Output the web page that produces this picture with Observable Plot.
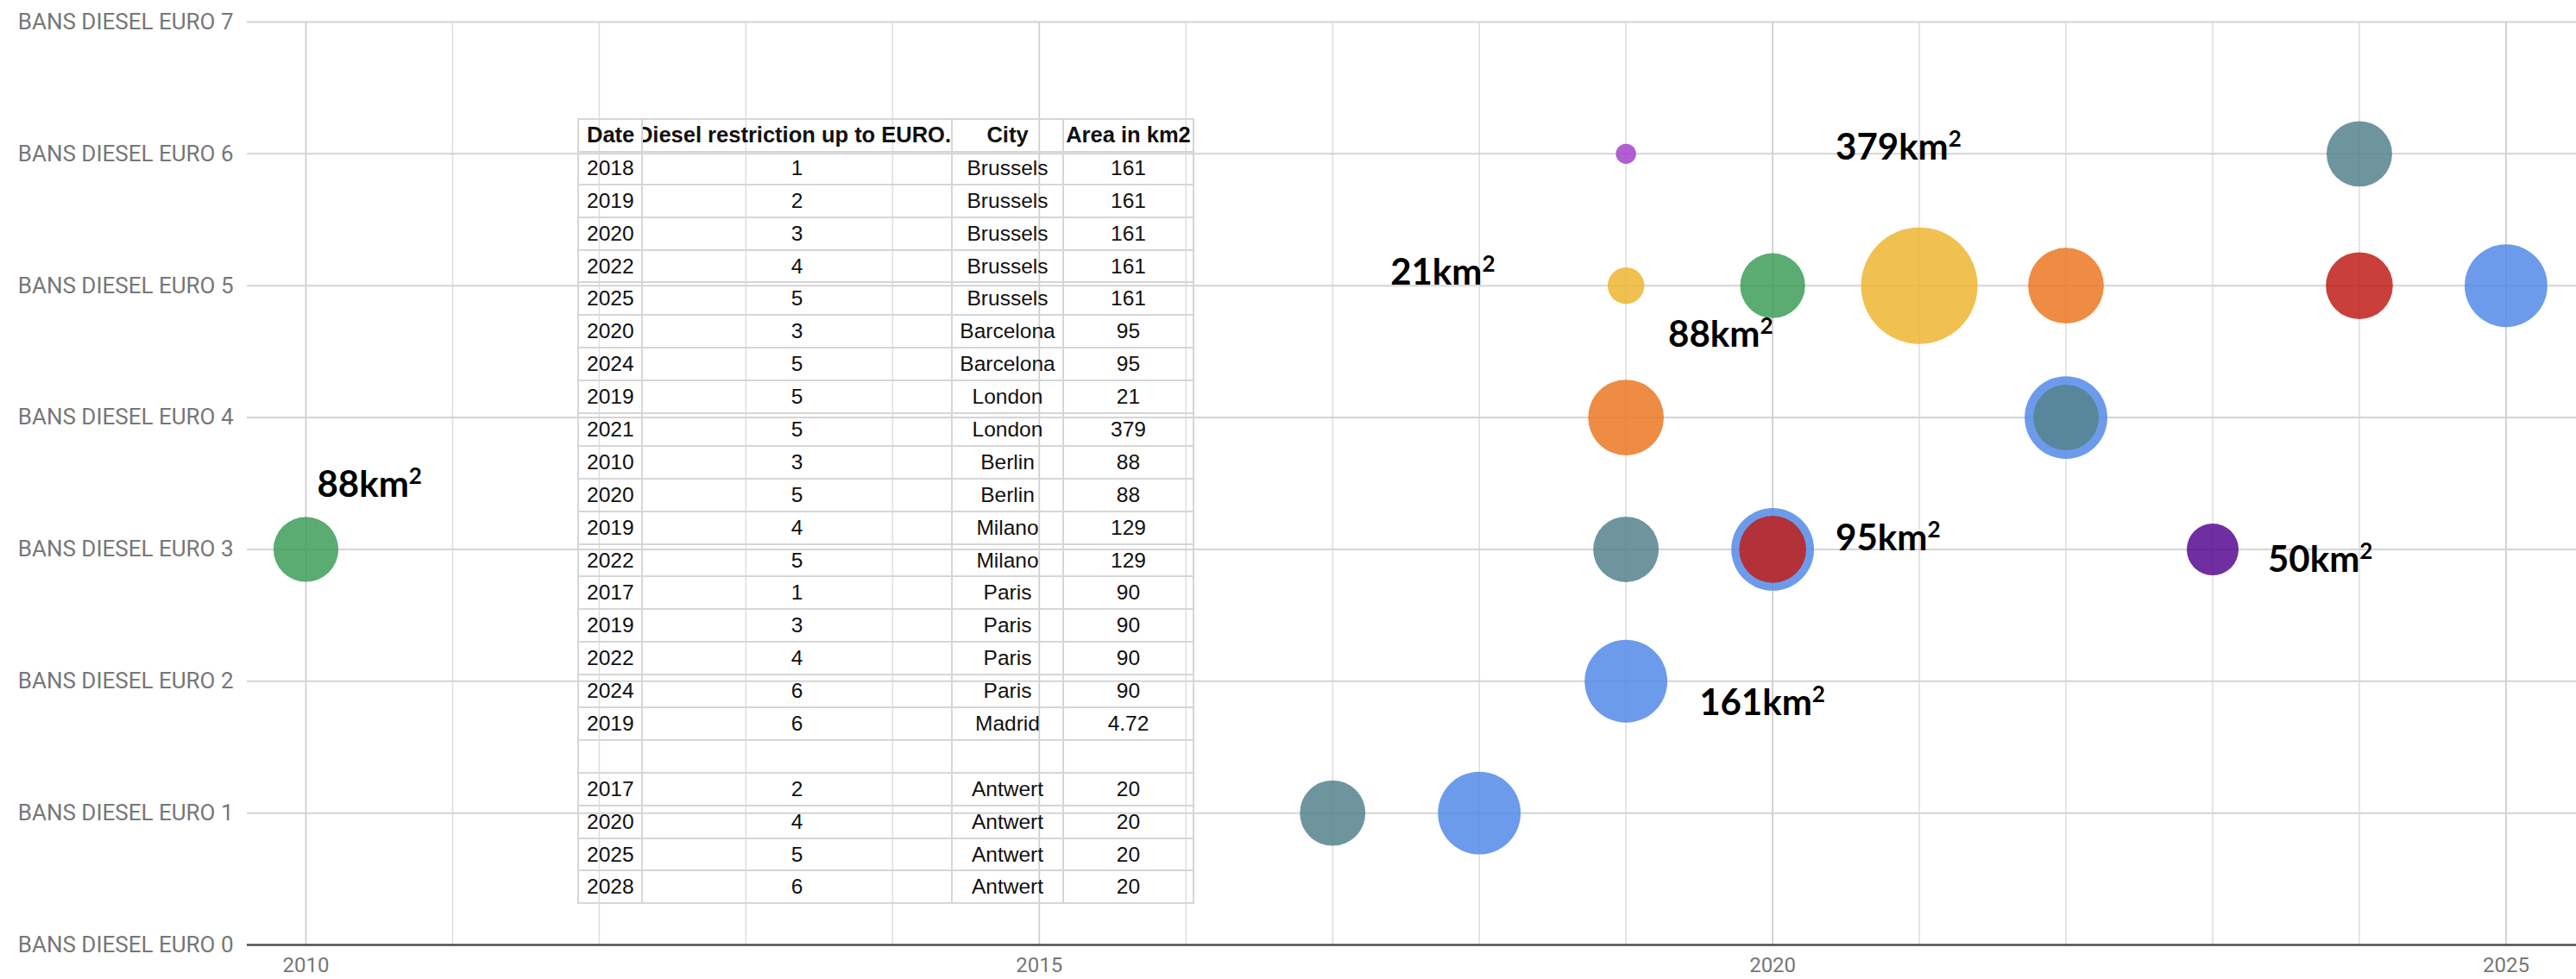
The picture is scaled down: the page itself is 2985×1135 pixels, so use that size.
<!DOCTYPE html>
<html>
<head>
<meta charset="utf-8">
<script src="https://cdn.jsdelivr.net/npm/d3@7"></script>
<script src="https://cdn.jsdelivr.net/npm/@observablehq/plot@0.6"></script>
<style>
  html, body { margin: 0; padding: 0; background: #fff; overflow: hidden; }
  #wrap { position: relative; width: 2985px; height: 1135px; }
  #chart { position: absolute; left: 0; top: 0; }
  #tbl { position: absolute; left: 669px; top: 137px; border-collapse: collapse; table-layout: fixed;
         font-family: "Liberation Sans", Arial, sans-serif; font-size: 24.5px; color: #111; background: transparent; }
  #tbl td { border: 2px solid #d6d6d6; padding: 0; height: 35.9px; white-space: nowrap; overflow: hidden; text-align: center; }
  #tbl td.date { text-align: left; padding-left: 9px; }
  #tbl tr.head td { font-weight: 700; font-size: 25.5px; }
  #tbl .clip { display: flex; justify-content: center; overflow: hidden; white-space: nowrap; }
</style>
</head>
<body>
<div id="wrap">
  <div id="chart"></div>
  <table id="tbl"></table>
</div>
<script>
// ---------- data ----------
const tableHeader = ["Date", "Diesel restriction up to EURO..", "City", "Area in km2"];
const tableDate = [2018, 2019, 2020, 2022, 2025, 2020, 2024, 2019, 2021, 2010, 2020, 2019, 2022, 2017, 2019, 2022, 2024, 2019, null, 2017, 2020, 2025, 2028];
const tableEuro = [1, 2, 3, 4, 5, 3, 5, 5, 5, 3, 5, 4, 5, 1, 3, 4, 6, 6, null, 2, 4, 5, 6];
const tableCity = ["Brussels", "Brussels", "Brussels", "Brussels", "Brussels", "Barcelona", "Barcelona", "London", "London", "Berlin", "Berlin", "Milano", "Milano", "Paris", "Paris", "Paris", "Paris", "Madrid", "", "Antwert", "Antwert", "Antwert", "Antwert"];
const tableArea = [161, 161, 161, 161, 161, 95, 95, 21, 379, 88, 88, 129, 129, 90, 90, 90, 90, 4.72, null, 20, 20, 20, 20];

// cities drawn as bubbles (Antwerp rows are only in the table)
const plottedCities = ["Brussels", "Barcelona", "London", "Berlin", "Milano", "Paris", "Madrid"];

// extra bubble shown on the chart (50 km², not in the table)
const extraCity = ["Other"];
const extraYear = [2023];
const extraEuro = [3];
const extraArea = [50];

// y tick labels and x ticks
const euroLevels = [0, 1, 2, 3, 4, 5, 6, 7];
const euroLabelPrefix = "BANS DIESEL EURO ";
const yearTicks = [2010, 2015, 2020, 2025];
const yearGrid = [2010, 2011, 2012, 2013, 2014, 2015, 2016, 2017, 2018, 2019, 2020, 2021, 2022, 2023, 2024, 2025];

// bubbles carrying an area label: [city, year]
const labelledPoints = [["Berlin", 2010], ["London", 2019], ["Berlin", 2020], ["London", 2021], ["Barcelona", 2020], ["Brussels", 2019], ["Other", 2023]];
const areaUnit = "km";

// ---------- styles ----------
const cityColors = ["#548ae8", "#bf1f19", "#edb531", "#3d9e59", "#eb7823", "#55838d", "#a244c8", "#570b8f"];
const labelOffsets = [[13, -74], [-273, -15], [-121, 57], [-97, -160], [73, -12], [85, 26], [64, 13]];

// ---------- build ----------
const points = [];
tableDate.forEach((d, i) => {
  if (plottedCities.includes(tableCity[i])) points.push({year: d, euro: tableEuro[i], city: tableCity[i], area: tableArea[i]});
});
extraCity.forEach((c, i) => points.push({year: extraYear[i], euro: extraEuro[i], city: c, area: extraArea[i]}));

const labelMarks = labelledPoints.map(([c, y], i) => {
  const p = points.filter(q => q.city === c && q.year === y);
  return Plot.text(p, {
    x: "year", y: "euro", text: d => `${d.area}${areaUnit}`,
    dx: labelOffsets[i][0], dy: labelOffsets[i][1], textAnchor: "start",
    fontFamily: "Lato, 'Open Sans', sans-serif", fontWeight: 700, fontSize: 42, fill: "#000",
    className: "area-label"
  });
});

const chart = Plot.plot({
  width: 2985,
  height: 1135,
  marginLeft: 286,
  marginRight: 0,
  marginTop: 25,
  marginBottom: 40,
  style: {fontFamily: "Roboto, sans-serif", fontSize: "24px", color: "#777777", background: "transparent"},
  x: {domain: [2009.6, 2025.48], label: null},
  y: {domain: [0, 7], label: null},
  r: {type: "pow", exponent: 0.4, domain: [0, 379], range: [0, 67.5]},
  color: {domain: [...plottedCities, ...extraCity], range: cityColors},
  marks: [
    Plot.gridX(yearGrid.filter(y => !yearTicks.includes(y)), {stroke: "#dedede", strokeOpacity: 1, strokeWidth: 1.5}),
    Plot.gridX(yearTicks, {stroke: "#cfcfcf", strokeOpacity: 1, strokeWidth: 1.8}),
    Plot.gridY(euroLevels.filter(e => e > 0), {stroke: "#d4d4d4", strokeOpacity: 1, strokeWidth: 2}),
    Plot.axisY(euroLevels, {tickSize: 0, tickPadding: 16, tickFormat: d => euroLabelPrefix + d, fontSize: 26, label: null}),
    Plot.axisX(yearTicks, {tickSize: 0, tickPadding: 14, tickFormat: d => String(d), fontSize: 24, label: null}),
    Plot.dot(points, {x: "year", y: "euro", r: "area", fill: "city", fillOpacity: 0.85, stroke: null}),
    Plot.ruleY([0], {stroke: "#4d4d4d", strokeWidth: 2.5}),
    ...labelMarks
  ]
});
// raised superscript "2" after the unit
d3.select(chart).selectAll("g.area-label text").each(function() {
  d3.select(this).append("tspan").attr("font-size", "0.62em").attr("dy", -15).text("2");
});
document.getElementById("chart").appendChild(chart);

// ---------- table overlay ----------
const tbl = document.getElementById("tbl");
const colWidths = [74, 359, 129, 151];
const cg = document.createElement("colgroup");
colWidths.forEach(w => { const c = document.createElement("col"); c.style.width = w + "px"; cg.appendChild(c); });
tbl.appendChild(cg);
tbl.style.width = d3.sum(colWidths) + "px";

const head = document.createElement("tr");
head.className = "head";
tableHeader.forEach((h, i) => {
  const td = document.createElement("td");
  if (i === 0) { td.className = "date"; td.textContent = h; }
  else { const dv = document.createElement("div"); dv.className = "clip"; const sp = document.createElement("span"); sp.textContent = h; dv.appendChild(sp); td.appendChild(dv); }
  head.appendChild(td);
});
tbl.appendChild(head);

tableDate.forEach((d, i) => {
  const tr = document.createElement("tr");
  const vals = [d, tableEuro[i], tableCity[i], tableArea[i]];
  vals.forEach((v, j) => {
    const td = document.createElement("td");
    if (j === 0) td.className = "date";
    td.textContent = v == null ? "" : String(v);
    tr.appendChild(td);
  });
  tbl.appendChild(tr);
});
</script>
</body>
</html>
